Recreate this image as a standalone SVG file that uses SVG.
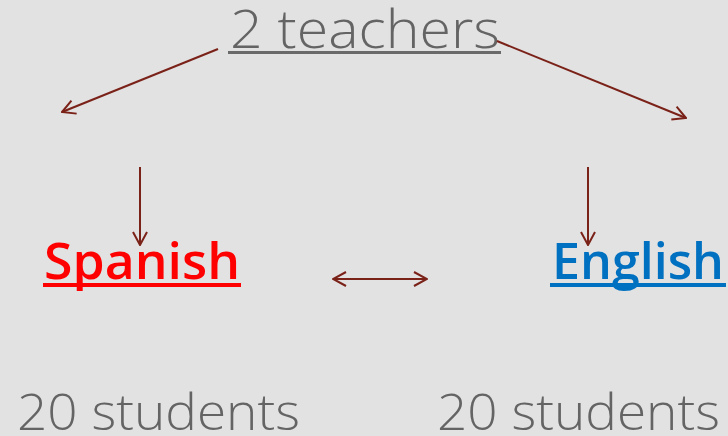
<svg xmlns="http://www.w3.org/2000/svg" width="728" height="436" viewBox="0 0 728 436">
<defs>
<style>
.t{font-family:"Open Sans","Liberation Sans",sans-serif;font-weight:300;fill:#646464}
.b{font-family:"Open Sans","Liberation Sans",sans-serif;font-weight:600}
.c{stroke:#7a2118;stroke-width:2;fill:none}
</style>
<marker id="ah" viewBox="0 0 16 16" refX="15" refY="8" markerWidth="16" markerHeight="16" markerUnits="userSpaceOnUse" orient="auto-start-reverse">
<path d="M2,1 L15,8 L2,15" fill="none" stroke="#7a2118" stroke-width="2"/>
</marker>
</defs>
<rect width="728" height="436" fill="#e2e2e2"/>
<g id="teachers">
<text class="t" x="230" y="48" font-size="54" textLength="270" lengthAdjust="spacingAndGlyphs">2 teachers</text>
<rect x="228" y="51" width="273" height="3" fill="#6a6a6a"/>
</g>
<g id="spanish">
<text class="b" x="44" y="279" font-size="50" fill="#ff0000" textLength="196" lengthAdjust="spacingAndGlyphs">Spanish</text>
<rect x="43" y="283" width="198" height="4" fill="#ff0000"/>
</g>
<g id="english">
<text class="b" x="552" y="279" font-size="50" fill="#0070c0" textLength="172" lengthAdjust="spacingAndGlyphs">English</text>
<rect x="550" y="283" width="176" height="4" fill="#0070c0"/>
</g>
<g id="students-left">
<text class="t" x="17" y="430" font-size="50" textLength="283" lengthAdjust="spacingAndGlyphs">20 students</text>
</g>
<g id="students-right">
<text class="t" x="437" y="430" font-size="50" textLength="283" lengthAdjust="spacingAndGlyphs">20 students</text>
</g>
<g id="connectors">
<line class="c" x1="218" y1="49" x2="62" y2="112" marker-end="url(#ah)"/>
<line class="c" x1="497" y1="41" x2="686" y2="118" marker-end="url(#ah)"/>
<line class="c" x1="140" y1="167" x2="140" y2="245" marker-end="url(#ah)"/>
<line class="c" x1="588" y1="167" x2="588" y2="245" marker-end="url(#ah)"/>
<line class="c" x1="333" y1="279" x2="427" y2="279" marker-start="url(#ah)" marker-end="url(#ah)"/>
</g>
</svg>
